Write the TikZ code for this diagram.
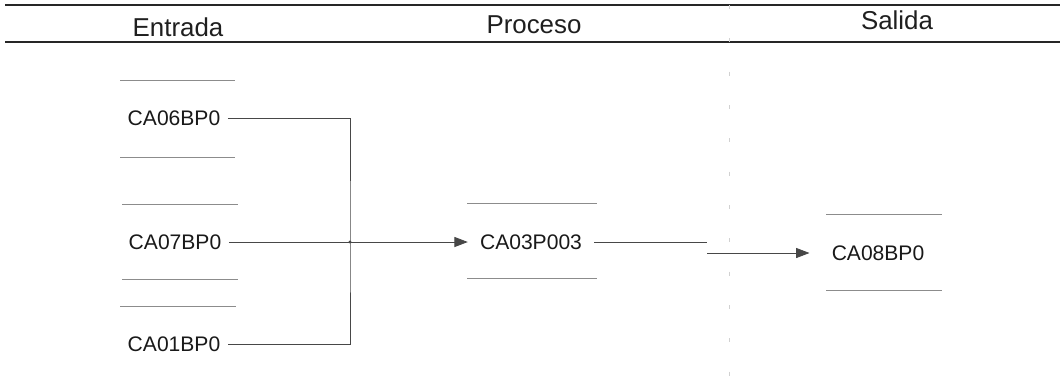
\documentclass[tikz,border=0pt]{standalone}
\usepackage{fontspec}
\setmainfont{Liberation Sans}
\usetikzlibrary{arrows.meta}
\begin{document}
\begin{tikzpicture}[x=0.75pt,y=-0.75pt,
  hdr/.style={font=\fontsize{19.4}{22}\selectfont, text=black!88, anchor=base, inner sep=0pt},
  lbl/.style={font=\fontsize{15.8}{18}\selectfont, text=black!90, inner ysep=2pt},
  hline/.style={line width=1.6pt, draw=black!85},
  store/.style={line width=0.5pt, draw=black!45},
  conn/.style={line width=0.6pt, draw=black!72},
  arr/.style={-{Triangle[length=10pt,width=7.5pt]}},
  sep/.style={line width=0.5pt, draw=black!18, dash pattern=on 3pt off 22pt}
]
\useasboundingbox[fill=white] (0,0) rectangle (1060,380);

% header
\draw[hline] (5,5) -- (1060,5);
\draw[hline] (5,42) -- (1060,42);
\draw[sep] (729,5) -- (729,380);
\node[hdr] (hin) at (178,36) {Entrada};
\node[hdr] (hproc) at (534,33) {Proceso};
\node[hdr] (hout) at (897,29) {Salida};

% inputs
\node[lbl, inner xsep=5.5pt] (in1) at (174,118) {CA06BP0};
\node[lbl, inner xsep=5.5pt] (in2) at (175,242) {CA07BP0};
\node[lbl, inner xsep=5.5pt] (in3) at (174,344) {CA01BP0};
\draw[store] (120,80) -- (235,80);
\draw[store] (120,157) -- (235,157);
\draw[store] (122,204) -- (238,204);
\draw[store] (122,279) -- (238,279);
\draw[store] (120,306) -- (236,306);

% process
\node[lbl, inner xsep=9pt] (proc) at (531,242) {CA03P003};
\draw[store] (467,203) -- (597,203);
\draw[store] (467,278) -- (597,278);

% output
\node[lbl, inner xsep=16.5pt] (out) at (878,253) {CA08BP0};
\draw[store] (826,214) -- (942,214);
\draw[store] (826,290) -- (942,290);

% connectors
\coordinate (bus) at (350,242);
\draw[conn] (in1.east) -| (bus) |- (in3.east);
\draw[conn, arr] (in2.east) -- (proc.west);
\fill[black!72] (bus) circle (1.2pt);
\coordinate (k1) at (707,242);
\coordinate (k2) at (707,253);
\draw[conn] (proc.east) -- (k1);
\draw[conn, arr] (k2) -- (out.west);
\end{tikzpicture}
\end{document}
